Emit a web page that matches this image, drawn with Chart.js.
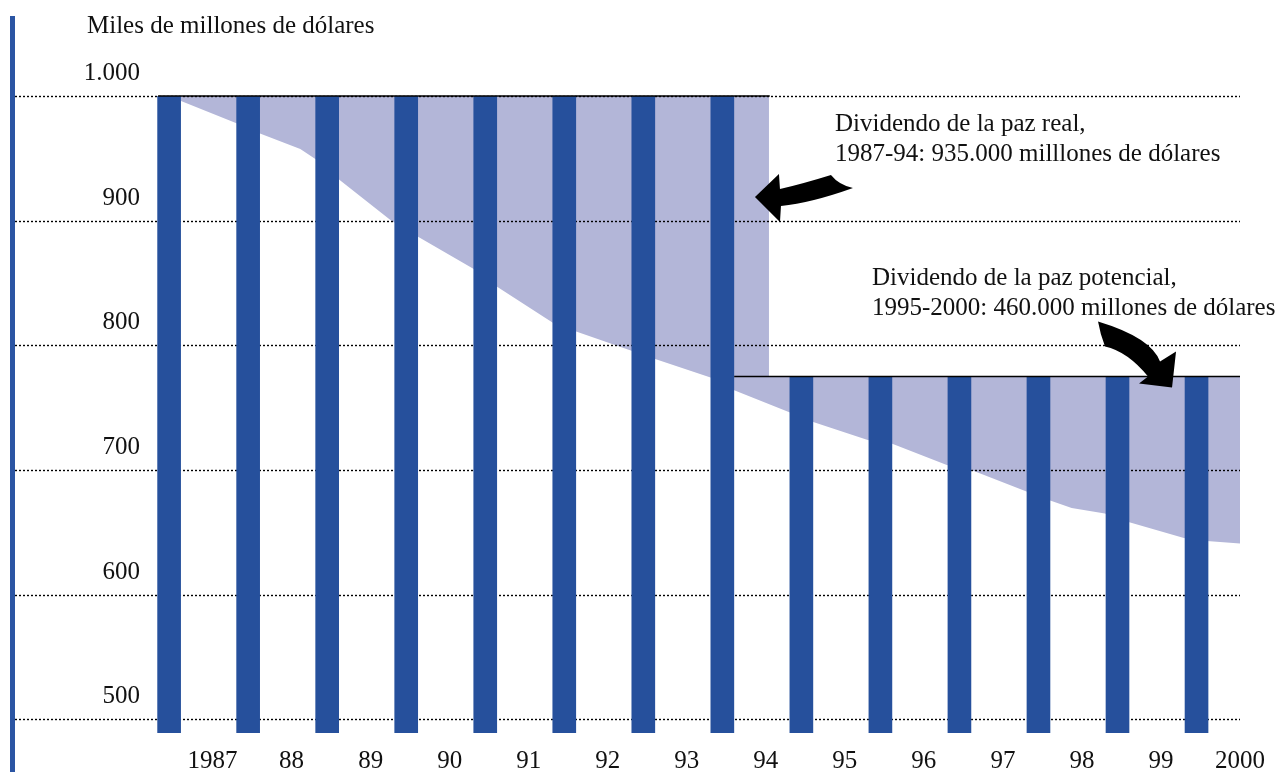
<!DOCTYPE html>
<html>
<head>
<meta charset="utf-8">
<script src="https://cdn.jsdelivr.net/npm/chart.js@4/dist/chart.umd.min.js"></script>
<style>
  body { margin: 0; background: #fff; }
  canvas { display: block; }
</style>
</head>
<body>
<canvas id="peaceChart" width="1281" height="772"></canvas>
<script>
// gasto militar mundial, miles de millones de dólares
var years = [1987, 1988, 1989, 1990, 1991, 1992, 1993, 1994, 1995, 1996, 1997, 1998, 1999, 2000];
var spending = [1000, 1000, 1000, 1000, 1000, 1000, 1000, 1000, 775, 775, 775, 775, 775, 775];
var xTickLabels = ['1987', '88', '89', '90', '91', '92', '93', '94', '95', '96', '97', '98', '99', '2000'];
var yTicks = [1000, 900, 800, 700, 600, 500];
var yTickLabels = ['1.000', '900', '800', '700', '600', '500'];

// techo del gasto (1987 nivel, luego nivel 1994)
var ceilingX = [1986.6, 1994.04, 1994.04, 2000];
var ceilingY = [1000, 1000, 775, 775];
// gasto efectivo / proyectado
var actualX = [1986.6, 1987.31, 1987.6, 1988.11, 1988.31, 1988.6, 1989.25, 1989.6, 1990.31, 1990.6,
               1991.31, 1991.6, 1992.31, 1992.6, 1993.31, 1993.6, 1994.29, 1994.6, 1995.29, 1995.6,
               1996.29, 1996.6, 1997.29, 1997.58, 1997.87, 1998.29, 1998.6, 1999.29, 1999.58, 2000];
var actualY = [996, 978, 970, 957.5, 949, 933, 900.5, 887, 861, 847,
               818, 811, 795.5, 789, 774, 764, 746.5, 738.5, 724, 721,
               704, 700, 683, 676, 669.5, 665, 658, 645.5, 643, 641];

var realTitle = ['Dividendo de la paz real,', '1987-94: 935.000 milllones de dólares'];
var potentialTitle = ['Dividendo de la paz potencial,', '1995-2000: 460.000 millones de dólares'];

var BAR_SHIFT = -0.55;
var FONT = '25px "Liberation Serif", "DejaVu Serif", serif';

function pts(xs, ys) {
    return xs.map(function (x, i) { return { x: x, y: ys[i] }; });
}

var barData = years.map(function (y, i) { return { x: y + BAR_SHIFT, y: spending[i] }; });

var decorPlugin = {
    id: 'decor',
    beforeDatasetDraw: function (chart, args) {
        if (args.meta.type !== 'bar') return;
        var ctx = chart.ctx, area = chart.chartArea, ys = chart.scales.y;
        ctx.save();
        ctx.strokeStyle = '#000';
        ctx.lineWidth = 1.4;
        ctx.setLineDash([2, 2]);
        yTicks.forEach(function (v) {
            var py = Math.round(ys.getPixelForValue(v)) + 0.5;
            ctx.beginPath();
            ctx.moveTo(area.left, py);
            ctx.lineTo(area.right, py);
            ctx.stroke();
        });
        ctx.restore();
    },
    afterDraw: function (chart) {
        var ctx = chart.ctx, xs = chart.scales.x, ys = chart.scales.y;
        ctx.save();
        // barra azul a la izquierda
        ctx.fillStyle = '#2b55a3';
        ctx.fillRect(10, 16, 5, 756);

        ctx.fillStyle = '#111';
        ctx.font = FONT;
        ctx.textBaseline = 'alphabetic';
        ctx.textAlign = 'left';
        ctx.fillText('Miles de millones de dólares', 87, 33);

        ctx.textAlign = 'right';
        yTicks.forEach(function (v, i) {
            ctx.fillText(yTickLabels[i], 140, ys.getPixelForValue(v) - 16);
        });

        ctx.textAlign = 'center';
        years.forEach(function (y, i) {
            ctx.fillText(xTickLabels[i], xs.getPixelForValue(y), 768);
        });

        ctx.textAlign = 'left';
        ctx.fillText(realTitle[0], 835, 131);
        ctx.fillText(realTitle[1], 835, 161);
        ctx.fillText(potentialTitle[0], 872, 285);
        ctx.fillText(potentialTitle[1], 872, 315);

        // flechas
        ctx.fillStyle = '#000';
        var t1x = xs.getPixelForValue(1994.04) - 14, t1y = ys.getPixelForValue(919);
        ctx.save();
        ctx.translate(t1x, t1y);
        ctx.beginPath();
        ctx.moveTo(0, 0);
        ctx.lineTo(24, -23);
        ctx.lineTo(25, -8);
        ctx.quadraticCurveTo(47, -13, 76, -22);
        ctx.quadraticCurveTo(84, -12, 98, -9);
        ctx.quadraticCurveTo(56, 6, 26, 9);
        ctx.lineTo(25, 25);
        ctx.closePath();
        ctx.fill();
        ctx.restore();

        var t2x = xs.getPixelForValue(1999.14), t2y = ys.getPixelForValue(775) + 11;
        ctx.save();
        ctx.translate(t2x, t2y);
        ctx.beginPath();
        ctx.moveTo(0, 0);
        ctx.lineTo(-33, -4);
        ctx.lineTo(-24, -11);
        ctx.quadraticCurveTo(-44.5, -36, -67, -41);
        ctx.quadraticCurveTo(-72, -54, -74, -66);
        ctx.quadraticCurveTo(-21, -50, -12, -26);
        ctx.lineTo(4, -36);
        ctx.closePath();
        ctx.fill();
        ctx.restore();

        ctx.restore();
    }
};

var ctx = document.getElementById('peaceChart').getContext('2d');
var chartInstance = new Chart(ctx, {
    type: 'bar',
    data: {
        datasets: [{
            type: 'line',
            data: pts([1986.31, 1994.05], [1000, 1000]),
            borderColor: '#000',
            borderWidth: 1.5,
            pointRadius: 0,
            fill: false,
            clip: false,
            order: 0
        }, {
            type: 'line',
            data: pts([1993.6, 2000], [775, 775]),
            borderColor: '#000',
            borderWidth: 1.5,
            pointRadius: 0,
            fill: false,
            clip: false,
            order: 0
        }, {
            type: 'bar',
            data: barData,
            backgroundColor: '#26509c',
            borderWidth: 0,
            barThickness: 23,
            order: 1
        }, {
            type: 'line',
            data: pts(ceilingX, ceilingY),
            borderWidth: 0,
            borderColor: 'rgba(0,0,0,0)',
            backgroundColor: '#b3b6d8',
            pointRadius: 0,
            tension: 0,
            fill: '+1',
            order: 2
        }, {
            type: 'line',
            data: pts(actualX, actualY),
            borderWidth: 0,
            borderColor: 'rgba(0,0,0,0)',
            pointRadius: 0,
            tension: 0,
            fill: false,
            order: 2
        }]
    },
    options: {
        responsive: false,
        animation: false,
        events: [],
        layout: { padding: { left: 15, right: 41, top: 96, bottom: 39 } },
        scales: {
            x: { type: 'linear', min: 1984.5, max: 2000, offset: false, display: false },
            y: { type: 'linear', min: 489, max: 1000, beginAtZero: false, display: false }
        },
        plugins: {
            legend: { display: false },
            tooltip: { enabled: false }
        }
    },
    plugins: [decorPlugin]
});
</script>
</body>
</html>
